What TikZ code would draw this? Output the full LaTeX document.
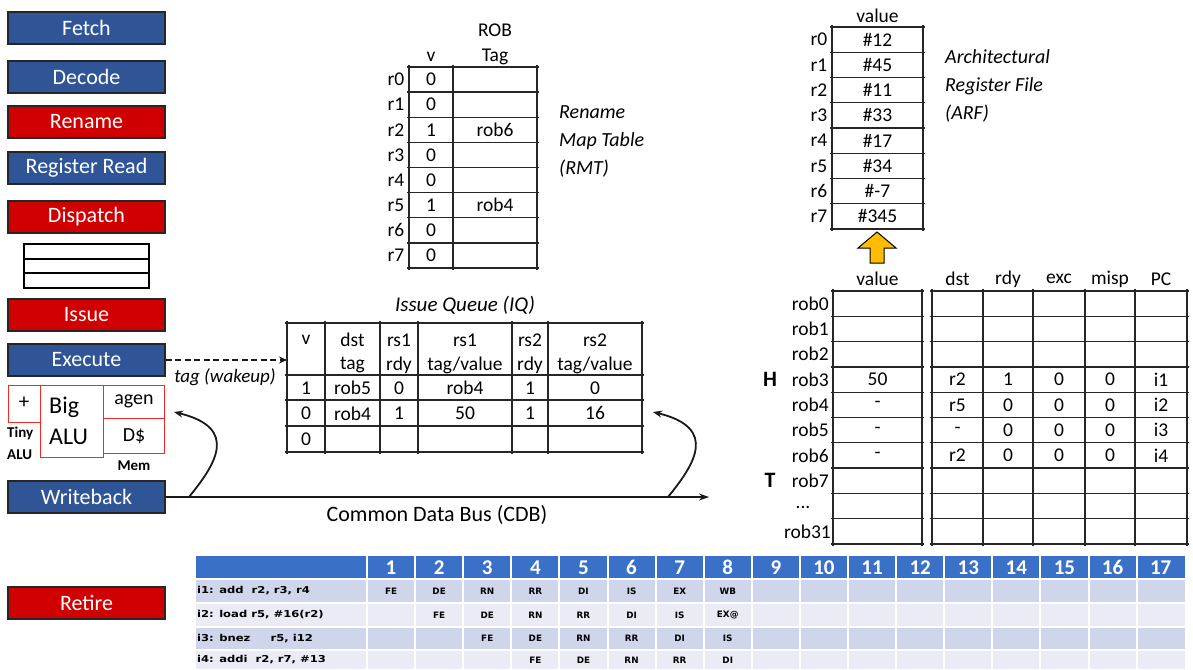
\documentclass[tikz,border=0pt]{standalone}
\usepackage{fontspec}
\setmainfont{Carlito}
\newfontfamily\tabfont{DejaVu Sans}
\usetikzlibrary{arrows.meta}
\definecolor{stageblue}{RGB}{47,85,151}
\definecolor{stagered}{RGB}{208,0,0}
\definecolor{hdrblue}{RGB}{58,112,200}
\definecolor{rowa}{RGB}{207,213,234}
\definecolor{rowb}{RGB}{233,235,245}
\definecolor{arrowgold}{RGB}{255,188,0}
\definecolor{furred}{RGB}{250,40,40}
\begin{document}
\begin{tikzpicture}[x=1pt,y=-1pt,
 stagebox/.style={draw=black!85,line width=1.2pt,minimum width=157pt,minimum height=32pt,inner sep=0pt,text=white,font=\fontsize{22}{24}\selectfont},
 bluestage/.style={stagebox,fill=stageblue},
 redstage/.style={stagebox,fill=stagered},
 tgrid/.style={line width=1.3pt,draw=black!85},
 tt/.style={font=\fontsize{19.5}{21}\selectfont,inner sep=0pt},
 lbl/.style={font=\fontsize{20}{28}\selectfont\itshape,align=left,inner sep=0pt},
 fubox/.style={draw=furred,line width=1pt},
 smallb/.style={font=\fontsize{15}{17}\selectfont\bfseries,inner sep=0pt},
 pc/.style={font=\tabfont\bfseries\fontsize{8.8}{10}\selectfont,inner sep=0pt},
 pclab/.style={font=\tabfont\bfseries\fontsize{9.5}{11}\selectfont,inner sep=0pt,anchor=west},
 hdnum/.style={font=\fontsize{21}{23}\selectfont\bfseries,text=white,inner sep=0pt},
 conn/.style={line width=1.8pt,draw=black!90}
]
\useasboundingbox (0,0) rectangle (1193,669);
\fill[white] (0,0) rectangle (1193,669);

% ---------- pipeline stages ----------
\node[bluestage] (fetch) at (86.5,28) {Fetch};
\node[bluestage] (decode) at (86.5,77) {Decode};
\node[redstage] (rename) at (86.5,122) {Rename};
\node[bluestage] (regread) at (86.5,168) {Register Read};
\node[redstage] (dispatch) at (86.5,217) {Dispatch};
\node[redstage] (issue) at (86.5,315) {Issue};
\node[bluestage] (execute) at (86.5,360) {Execute};
\node[bluestage] (writeback) at (86.5,497) {Writeback};
\node[redstage] (retire) at (86.5,603) {Retire};

% queue symbol
\draw[line width=2.2pt] (24,244) rectangle (149,288);
\draw[line width=2.2pt] (24,259) -- (149,259) (24,273) -- (149,273);

% functional units
\draw[fubox] (8,385) rectangle (40,422);
\draw[fubox] (40,385) rectangle (103,457);
\draw[fubox] (103,385) rectangle (164,418);
\draw[fubox] (103,418) rectangle (164,453);
\node[font=\fontsize{21}{23}\selectfont,inner sep=0pt] (plus) at (24,403) {+};
\node[font=\fontsize{24}{26}\selectfont,inner sep=0pt,anchor=west] (big) at (49,407) {Big};
\node[font=\fontsize{24}{26}\selectfont,inner sep=0pt,anchor=west] (bigalu) at (49,437) {ALU};
\node[font=\fontsize{20}{22}\selectfont,inner sep=0pt] (agen) at (134,401) {agen};
\node[font=\fontsize{20}{22}\selectfont,inner sep=0pt] (dcache) at (134,436) {D\$};
\node[smallb,anchor=west] (tiny) at (7,433) {Tiny};
\node[smallb,anchor=west] (tinyalu) at (7,455) {ALU};
\node[smallb] (mem) at (134,466) {Mem};

% ---------- wakeup & CDB ----------
\coordinate (iqin) at (287,360);
\draw[conn,dash pattern=on 6pt off 3.5pt,-{Stealth[length=8pt,width=7pt]}] (execute.east) -- (iqin);
\node[font=\fontsize{19}{21}\selectfont\itshape,inner sep=0pt] (tagw) at (225,377) {tag (wakeup)};

\coordinate (cdbend) at (709,497);
\draw[conn,-{Stealth[length=10pt,width=7pt]}] (writeback.east) -- (cdbend);
\node[font=\fontsize{22}{24}\selectfont,inner sep=0pt] (cdblbl) at (437,515) {Common Data Bus (CDB)};

\coordinate (c1s) at (189,497);
\coordinate (c1e) at (174,412);
\draw[conn,-{Stealth[length=9pt,width=7pt]}] (c1s) .. controls (215,465) and (240,428) .. (c1e);
\coordinate (c2s) at (668,497);
\coordinate (c2e) at (653,412);
\draw[conn,-{Stealth[length=9pt,width=7pt]}] (c2s) .. controls (694,465) and (719,428) .. (c2e);

% ---------- Rename Map Table ----------
\foreach \i in {0,...,8} \draw[tgrid] (407,{67+25.125*\i}) -- (539,{67+25.125*\i});
\foreach \x in {409,453,537} \draw[tgrid] (\x,65) -- (\x,270);
\node[tt] (rmthv) at (431,57) {v};
\node[tt] (rmthrob) at (495,30) {ROB};
\node[tt] (rmthtag) at (495,57) {Tag};
\foreach \v [count=\i from 0] in {0,0,1,0,0,1,0,0} {
  \node[tt] (rmtv\i) at (431,{67+25.125*(\i+0.5)}) {\v};
  \node[tt] (rmtr\i) at (396,{67+25.125*(\i+0.5)}) {r\i};
}
\node[tt] (rmtt2) at (495,{67+25.125*2.5}) {rob6};
\node[tt] (rmtt5) at (495,{67+25.125*5.5}) {rob4};
\node[lbl,anchor=west] (rmtlbl) at (559,141) {Rename\\Map Table\\(RMT)};

% ---------- Architectural Register File ----------
\foreach \i in {0,...,8} \draw[tgrid] (830,{27+25.25*\i}) -- (925,{27+25.25*\i});
\foreach \x in {832,923} \draw[tgrid] (\x,25) -- (\x,231);
\node[tt] (arfhv) at (877.5,16) {value};
\foreach \v [count=\i from 0] in {\#12,\#45,\#11,\#33,\#17,\#34,\#-7,\#345} {
  \node[tt] (arfv\i) at (877.5,{27+25.25*(\i+0.5)}) {\v};
  \node[tt] (arfr\i) at (819,{27+25.25*(\i+0.5)}) {r\i};
}
\node[lbl,anchor=west] (arflbl) at (945,86) {Architectural\\Register File\\(ARF)};

% retire arrow
\draw[line width=1pt,fill=arrowgold] (877,232) -- (896,248) -- (884,248) -- (884,263) -- (870,263) -- (870,248) -- (858,248) -- cycle;

% ---------- Issue Queue ----------
\node[font=\fontsize{21}{23}\selectfont\itshape,inner sep=0pt] (iqlbl) at (465,305) {Issue Queue (IQ)};
\foreach \y in {323,375,400,426,452} \draw[tgrid] (285,\y) -- (644,\y);
\foreach \x in {287,325,380,418,512,548,642} \draw[tgrid] (\x,321) -- (\x,454);
\node[tt] (iqh1) at (306,340) {v};
\node[tt] (iqh2a) at (352.5,340) {dst};
\node[tt] (iqh2b) at (352.5,365) {tag};
\node[tt] (iqh3a) at (399,340) {rs1};
\node[tt] (iqh3b) at (399,365) {rdy};
\node[tt] (iqh4a) at (465,340) {rs1};
\node[tt] (iqh4b) at (465,365) {tag/value};
\node[tt] (iqh5a) at (530,340) {rs2};
\node[tt] (iqh5b) at (530,365) {rdy};
\node[tt] (iqh6a) at (595,340) {rs2};
\node[tt] (iqh6b) at (595,365) {tag/value};
\foreach \a/\b/\c/\d/\e/\f [count=\r] in {1/rob5/0/rob4/1/0, 0/rob4/1/50/1/16} {
  \pgfmathsetmacro{\yy}{375+25.6*(\r-0.5)}
  \node[tt] (iqa\r) at (306,\yy) {\a};
  \node[tt] (iqb\r) at (352.5,\yy) {\b};
  \node[tt] (iqc\r) at (399,\yy) {\c};
  \node[tt] (iqd\r) at (465,\yy) {\d};
  \node[tt] (iqe\r) at (530,\yy) {\e};
  \node[tt] (iqf\r) at (595,\yy) {\f};
}
\node[tt] (iqa3) at (306,439) {0};

% ---------- Reorder Buffer ----------
\foreach \i in {0,...,10} {
  \draw[tgrid] (831,{291+25.3*\i}) -- (924,{291+25.3*\i});
  \draw[tgrid] (930,{291+25.3*\i}) -- (1189,{291+25.3*\i});
}
\foreach \x in {833,922,932,983,1033,1085,1135,1187} \draw[tgrid] (\x,289) -- (\x,546);
\node[tt] (robhv) at (877.5,279) {value};
\node[tt] (robhd) at (957.5,279) {dst};
\node[tt] (robhr) at (1008,279) {rdy};
\node[tt] (robhe) at (1059,279) {exc};
\node[tt] (robhm) at (1110,279) {misp};
\node[tt] (robhp) at (1161,279) {PC};
\foreach \n [count=\i from 0] in {rob0,rob1,rob2,rob3,rob4,rob5,rob6,rob7} {
  \node[tt,anchor=east] (robl\i) at (829,{291+25.3*(\i+0.5)}) {\n};
}
\node[tt] (robdots) at (803,507) {...};
\node[tt,anchor=east] (robl31) at (831,{291+25.3*9.5}) {rob31};
\node[font=\fontsize{22}{24}\selectfont\bfseries,inner sep=0pt] (headH) at (770,{291+25.3*3.5}) {H};
\node[font=\fontsize{22}{24}\selectfont\bfseries,inner sep=0pt] (tailT) at (770,{291+25.3*7.5}) {T};
\foreach \a/\b/\c/\d/\e/\f [count=\r from 3] in {50/r2/1/0/0/i1, -/r5/0/0/0/i2, -/-/0/0/0/i3, -/r2/0/0/0/i4} {
  \pgfmathsetmacro{\yy}{291+25.3*(\r+0.5)}
  \node[tt] (robv\r) at (877.5,\yy) {\a};
  \node[tt] (robd\r) at (957.5,\yy) {\b};
  \node[tt] (robr\r) at (1008,\yy) {\c};
  \node[tt] (robe\r) at (1059,\yy) {\d};
  \node[tt] (robm\r) at (1110,\yy) {\e};
  \node[tt] (robp\r) at (1161,\yy) {\f};
}

% ---------- pipeline diagram table ----------
\fill[hdrblue] (196,556) rectangle (1185,578);
\fill[rowa] (196,580) rectangle (1185,602);
\fill[rowb] (196,604) rectangle (1185,626);
\fill[rowa] (196,628) rectangle (1185,649);
\fill[rowb] (196,651) rectangle (1185,669);
\foreach \k in {0,...,16} \draw[white,line width=2pt] ({367+48.1*\k},555) -- ({367+48.1*\k},669);
\foreach \k in {1,...,17} \node[hdnum] (hd\k) at ({367+48.1*(\k-0.5)},567.5) {\k};
\node[pclab] (ins1) at (197,591) {\scalebox{1.22}[1]{i1: add\ \ r2, r3, r4}};
\node[pclab] (ins2) at (197,615) {\scalebox{1.22}[1]{i2: load r5, \#16(r2)}};
\node[pclab] (ins3) at (197,638.5) {\scalebox{1.22}[1]{i3: bnez\ \ \ \ \ r5, i12}};
\node[pclab] (ins4) at (197,660) {\scalebox{1.22}[1]{i4: addi\ \ r2, r7, \#13}};
\foreach \t [count=\k from 1] in {FE,DE,RN,RR,DI,IS,EX,WB} \node[pc] (pa\k) at ({367+48.1*(\k-0.5)},591) {\t};
\foreach \t [count=\k from 2] in {FE,DE,RN,RR,DI,IS,EX@} \node[pc] (pb\k) at ({367+48.1*(\k-0.5)},615) {\t};
\foreach \t [count=\k from 3] in {FE,DE,RN,RR,DI,IS} \node[pc] (pcc\k) at ({367+48.1*(\k-0.5)},638.5) {\t};
\foreach \t [count=\k from 4] in {FE,DE,RN,RR,DI} \node[pc] (pd\k) at ({367+48.1*(\k-0.5)},660) {\t};
\end{tikzpicture}
\end{document}
